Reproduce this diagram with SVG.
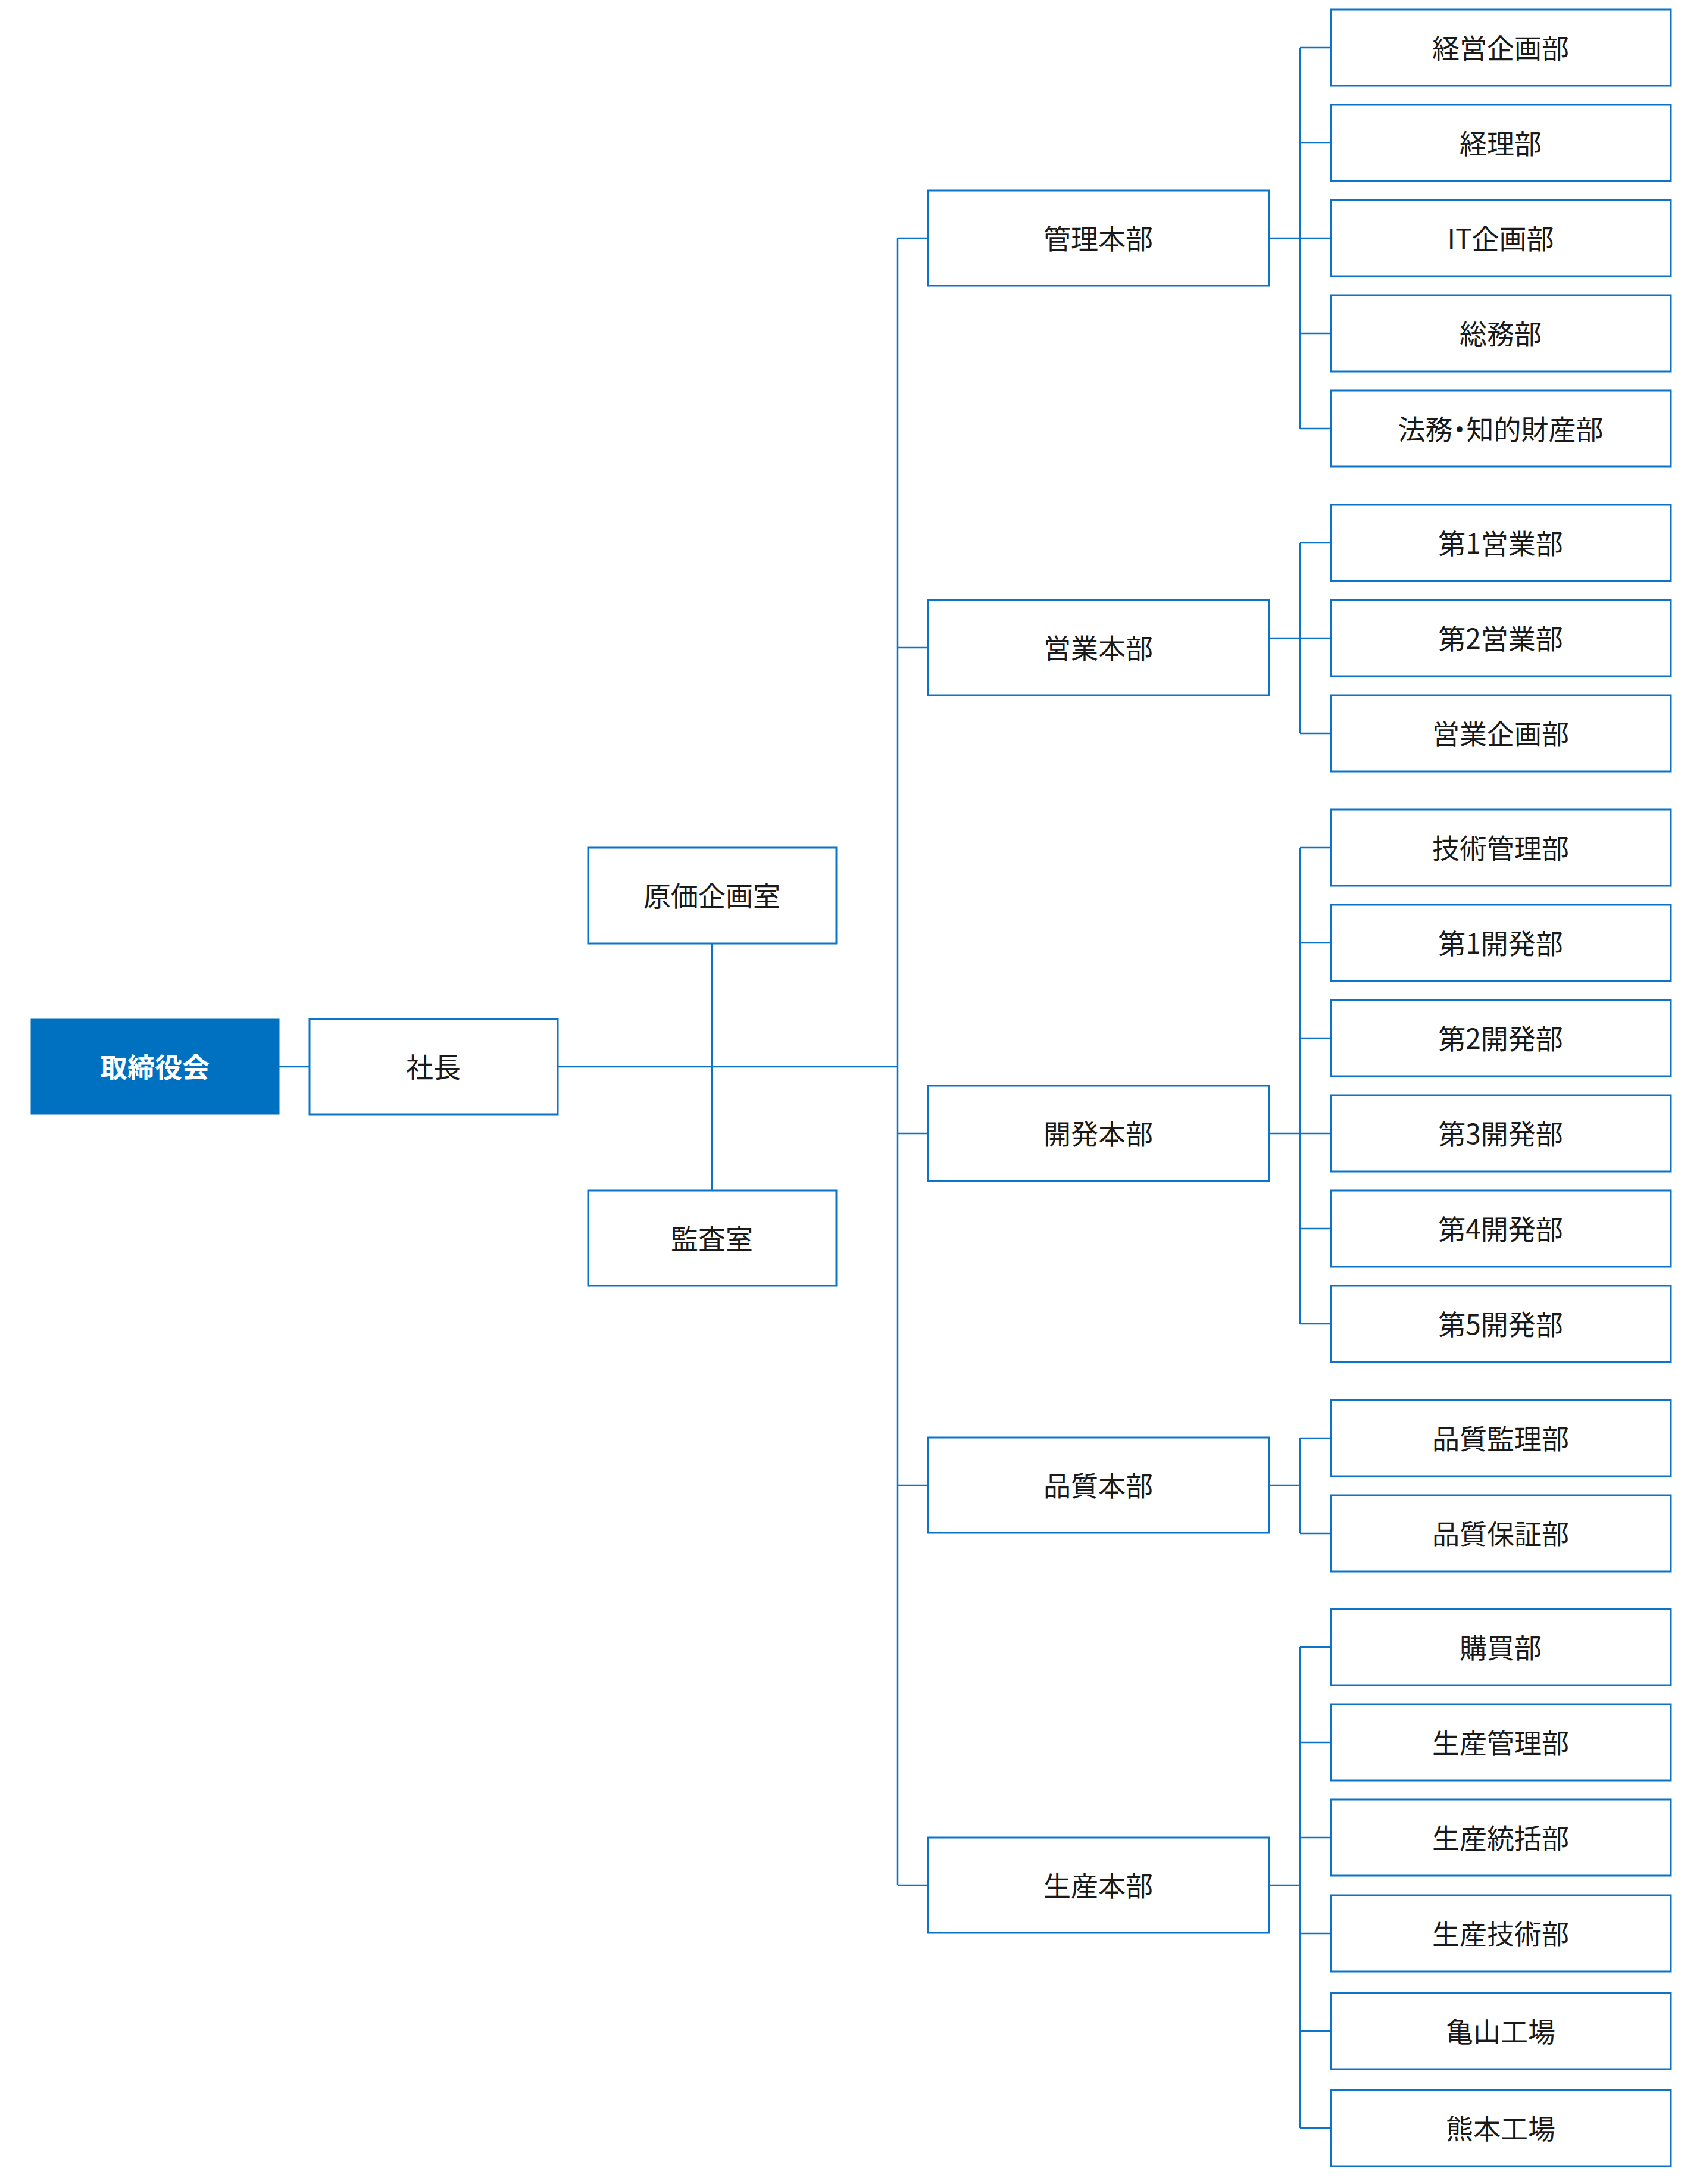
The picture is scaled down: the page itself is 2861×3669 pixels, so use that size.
<svg xmlns="http://www.w3.org/2000/svg" width="2861" height="3669" viewBox="0 0 2861 3669">
<style>
.box{fill:#ffffff;stroke:#0B74C8;stroke-width:3}
.board{fill:#0070C0;stroke:#0070C0;stroke-width:1}
.t{font-family:"Noto Sans CJK JP","Noto Sans",sans-serif;font-size:46px;fill:#1a1a1a;text-anchor:middle;dominant-baseline:central}
.tb{font-family:"Noto Sans CJK JP","Noto Sans",sans-serif;font-size:46px;font-weight:bold;fill:#ffffff;text-anchor:middle;dominant-baseline:central}
.halt{font-feature-settings:"halt" 1}
.c{fill:none;stroke:#0B74C8;stroke-width:2.5}
</style>
<rect width="2861" height="3669" fill="#ffffff"/>
<g id="connectors" class="c">
<path d="M469 1792H520"/>
<path d="M937 1792H1508"/>
<path d="M1196 1585V2000"/>
<path d="M1508 400V3167"/>
<path d="M1508 400H1559M1508 1088H1559M1508 1904H1559M1508 2495H1559M1508 3167H1559"/>
<path d="M2132 400H2184M2184 80V720M2184 80H2236M2184 240H2236M2184 400H2236M2184 560H2236M2184 720H2236"/>
<path d="M2132 1072H2184M2184 912V1232M2184 912H2236M2184 1072H2236M2184 1232H2236"/>
<path d="M2132 1904H2184M2184 1424V2224M2184 1424H2236M2184 1584H2236M2184 1744H2236M2184 1904H2236M2184 2064H2236M2184 2224H2236"/>
<path d="M2132 2495H2184M2184 2416V2576M2184 2416H2236M2184 2576H2236"/>
<path d="M2132 3167H2184M2184 2767V3575M2184 2767H2236M2184 2927H2236M2184 3087H2236M2184 3248H2236M2184 3412H2236M2184 3575H2236"/>
</g>
<g id="board"><rect class="board" x="52" y="1712" width="417" height="160"/><text class="tb" x="260" y="1790">取締役会</text></g>
<g id="president"><rect class="box" x="520" y="1712" width="417" height="160"/><text class="t" x="728" y="1790">社長</text></g>
<g id="genka"><rect class="box" x="988" y="1424" width="417" height="161"/><text class="t" x="1196" y="1502">原価企画室</text></g>
<g id="kansa"><rect class="box" x="988" y="2000" width="417" height="160"/><text class="t" x="1196" y="2078">監査室</text></g>
<g id="kanri-hq"><rect class="box" x="1559" y="320" width="573" height="160"/><text class="t" x="1845" y="398">管理本部</text></g>
<g id="eigyo-hq"><rect class="box" x="1559" y="1008" width="573" height="160"/><text class="t" x="1845" y="1086">営業本部</text></g>
<g id="kaihatsu-hq"><rect class="box" x="1559" y="1824" width="573" height="160"/><text class="t" x="1845" y="1902">開発本部</text></g>
<g id="hinshitsu-hq"><rect class="box" x="1559" y="2415" width="573" height="160"/><text class="t" x="1845" y="2493">品質本部</text></g>
<g id="seisan-hq"><rect class="box" x="1559" y="3087" width="573" height="160"/><text class="t" x="1845" y="3165">生産本部</text></g>
<g id="l1"><rect class="box" x="2236" y="16" width="571" height="128"/><text class="t" x="2521" y="78">経営企画部</text></g>
<g id="l2"><rect class="box" x="2236" y="176" width="571" height="128"/><text class="t" x="2521" y="238">経理部</text></g>
<g id="l3"><rect class="box" x="2236" y="336" width="571" height="128"/><text class="t" x="2521" y="398">IT企画部</text></g>
<g id="l4"><rect class="box" x="2236" y="496" width="571" height="128"/><text class="t" x="2521" y="558">総務部</text></g>
<g id="l5"><rect class="box" x="2236" y="656" width="571" height="128"/><text class="t halt" x="2521" y="718">法務・知的財産部</text></g>
<g id="l6"><rect class="box" x="2236" y="848" width="571" height="128"/><text class="t" x="2521" y="910">第1営業部</text></g>
<g id="l7"><rect class="box" x="2236" y="1008" width="571" height="128"/><text class="t" x="2521" y="1070">第2営業部</text></g>
<g id="l8"><rect class="box" x="2236" y="1168" width="571" height="128"/><text class="t" x="2521" y="1230">営業企画部</text></g>
<g id="l9"><rect class="box" x="2236" y="1360" width="571" height="128"/><text class="t" x="2521" y="1422">技術管理部</text></g>
<g id="l10"><rect class="box" x="2236" y="1520" width="571" height="128"/><text class="t" x="2521" y="1582">第1開発部</text></g>
<g id="l11"><rect class="box" x="2236" y="1680" width="571" height="128"/><text class="t" x="2521" y="1742">第2開発部</text></g>
<g id="l12"><rect class="box" x="2236" y="1840" width="571" height="128"/><text class="t" x="2521" y="1902">第3開発部</text></g>
<g id="l13"><rect class="box" x="2236" y="2000" width="571" height="128"/><text class="t" x="2521" y="2062">第4開発部</text></g>
<g id="l14"><rect class="box" x="2236" y="2160" width="571" height="128"/><text class="t" x="2521" y="2222">第5開発部</text></g>
<g id="l15"><rect class="box" x="2236" y="2352" width="571" height="128"/><text class="t" x="2521" y="2414">品質監理部</text></g>
<g id="l16"><rect class="box" x="2236" y="2512" width="571" height="128"/><text class="t" x="2521" y="2574">品質保証部</text></g>
<g id="l17"><rect class="box" x="2236" y="2703" width="571" height="128"/><text class="t" x="2521" y="2765">購買部</text></g>
<g id="l18"><rect class="box" x="2236" y="2863" width="571" height="128"/><text class="t" x="2521" y="2925">生産管理部</text></g>
<g id="l19"><rect class="box" x="2236" y="3023" width="571" height="128"/><text class="t" x="2521" y="3085">生産統括部</text></g>
<g id="l20"><rect class="box" x="2236" y="3184" width="571" height="128"/><text class="t" x="2521" y="3246">生産技術部</text></g>
<g id="l21"><rect class="box" x="2236" y="3348" width="571" height="128"/><text class="t" x="2521" y="3410">亀山工場</text></g>
<g id="l22"><rect class="box" x="2236" y="3511" width="571" height="128"/><text class="t" x="2521" y="3573">熊本工場</text></g>
</svg>
